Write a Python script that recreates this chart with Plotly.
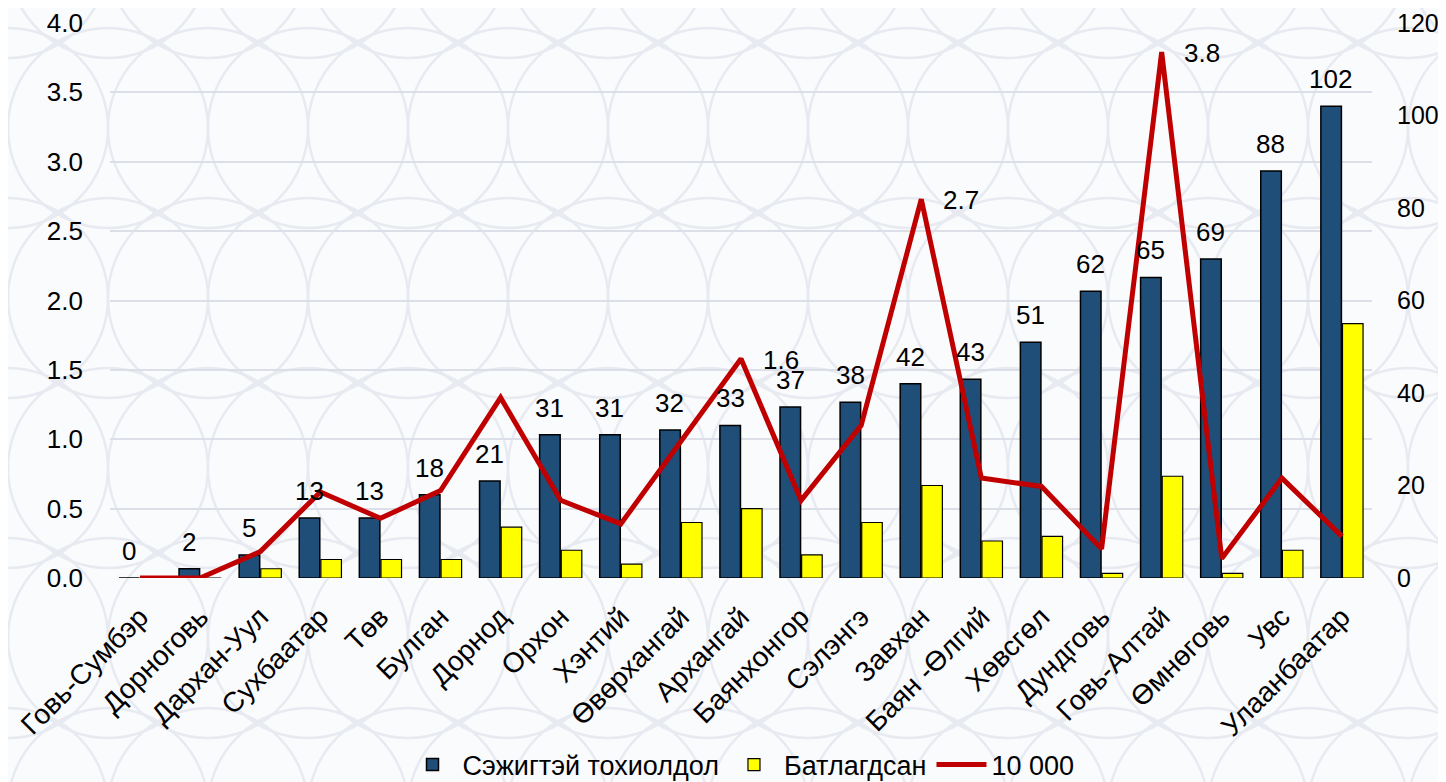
import base64
import plotly.graph_objects as go

# aimags / districts
aimags = ["Говь-Сумбэр", "Дорноговь", "Дархан-Уул", "Сухбаатар", "Төв", "Булган",
          "Дорнод", "Орхон", "Хэнтий", "Өвөрхангай", "Архангай", "Баянхонгор",
          "Сэлэнгэ", "Завхан", "Баян -Өлгий", "Хөвсгөл", "Дундговь", "Говь-Алтай",
          "Өмнөговь", "Увс", "Улаанбаатар"]

# suspected cases (right axis)
suspected = [0, 2, 5, 13, 13, 18, 21, 31, 31, 32, 33, 37, 38, 42, 43, 51, 62, 65, 69, 88, 102]
# confirmed (right axis)
confirmed = [0, 0, 2, 4, 4, 4, 11, 6, 3, 12, 15, 5, 12, 20, 8, 9, 1, 22, 1, 6, 55]
# per 10 000 population (left axis)
per10k = [0.0, 0.0, 0.19, 0.62, 0.43, 0.63, 1.30, 0.56, 0.39, 0.98, 1.58, 0.56,
          1.10, 2.73, 0.72, 0.66, 0.21, 3.79, 0.14, 0.72, 0.30]
per10k_labels = {"Архангай": "1.6", "Завхан": "2.7", "Говь-Алтай": "3.8"}

FONT = "Liberation Sans, Arial, sans-serif"
# page body has an 8px margin, so the figure is 8px smaller each way
W, H = 1438, 774
L, R, T, B = 102, 74, 15, 204
PW, PH = W - L - R, H - T - B

# faint circle watermark for the whole background
circles = "".join(
    f'<circle cx="{cx}" cy="{cy}" r="100" fill="none" stroke="#E8EAF1" stroke-width="2.5"/>'
    for cx in range(-100, W + 200, 100) for cy in range(-50, H + 200, 170)
)
svg = f'<svg xmlns="http://www.w3.org/2000/svg" width="{W}" height="{H}">{circles}</svg>'
bg_src = "data:image/svg+xml;base64," + base64.b64encode(svg.encode()).decode()

fig = go.Figure()
fig.add_trace(go.Bar(x=aimags, y=suspected, name="Сэжигтэй тохиолдол",
                     marker=dict(color="#1F4E79", line=dict(color="black", width=1.5)),
                     yaxis="y"))
fig.add_trace(go.Bar(x=aimags, y=confirmed, name="Батлагдсан",
                     marker=dict(color="#FFFF00", line=dict(color="black", width=1.2)),
                     yaxis="y"))
fig.add_trace(go.Scatter(x=aimags, y=per10k, name="10 000", mode="lines",
                         line=dict(color="#C00000", width=5), yaxis="y2"))

annotations = []
for a, v in zip(aimags, suspected):
    annotations.append(dict(x=a, y=v, xref="x", yref="y", text=str(v), showarrow=False,
                            xanchor="center", yanchor="bottom", xshift=-11, yshift=10,
                            font=dict(size=26, color="black", family=FONT)))
for a, v in zip(aimags, per10k):
    if a in per10k_labels:
        annotations.append(dict(x=a, y=v, xref="x", yref="y2", text=per10k_labels[a],
                                showarrow=False, xanchor="left", yanchor="middle",
                                xshift=20, yshift=-1,
                                font=dict(size=26, color="black", family=FONT)))

fig.update_layout(
    width=W, height=H,
    margin=dict(l=L, r=R, t=T, b=B, autoexpand=False),
    paper_bgcolor="#FAFBFD", plot_bgcolor="rgba(0,0,0,0)",
    font=dict(family=FONT, size=26, color="black"),
    barmode="group", bargap=0.28, bargroupgap=0.05,
    xaxis=dict(tickangle=-45, automargin=False, showgrid=False, showline=False,
               ticks="", tickfont=dict(size=28), ticklabelstandoff=16),
    yaxis=dict(side="right", range=[0, 120], dtick=20, showgrid=False,
               zeroline=False, showline=False, automargin=False,
               tickfont=dict(size=25), ticklabelstandoff=24,
               ticklabeloverflow="allow"),
    yaxis2=dict(side="left", overlaying="y", range=[0, 4], dtick=0.5, tickformat=".1f",
                showgrid=True, gridcolor="#DCDFE8", gridwidth=1.5, zeroline=False,
                showline=False, automargin=False, tickfont=dict(size=26),
                ticklabelstandoff=26, ticklabeloverflow="allow"),
    legend=dict(orientation="h", x=0.5, xanchor="center", yref="container",
                y=(H - 757) / H, yanchor="middle",
                font=dict(size=27), bgcolor="rgba(0,0,0,0)", traceorder="normal",
                itemwidth=50),
    annotations=annotations,
    images=[dict(source=bg_src, xref="paper", yref="paper",
                 x=-L / PW, y=1 + T / PH, sizex=W / PW, sizey=H / PH,
                 xanchor="left", yanchor="top", layer="below", sizing="stretch",
                 opacity=1)],
    showlegend=True,
)

fig.write_html("out.html")
